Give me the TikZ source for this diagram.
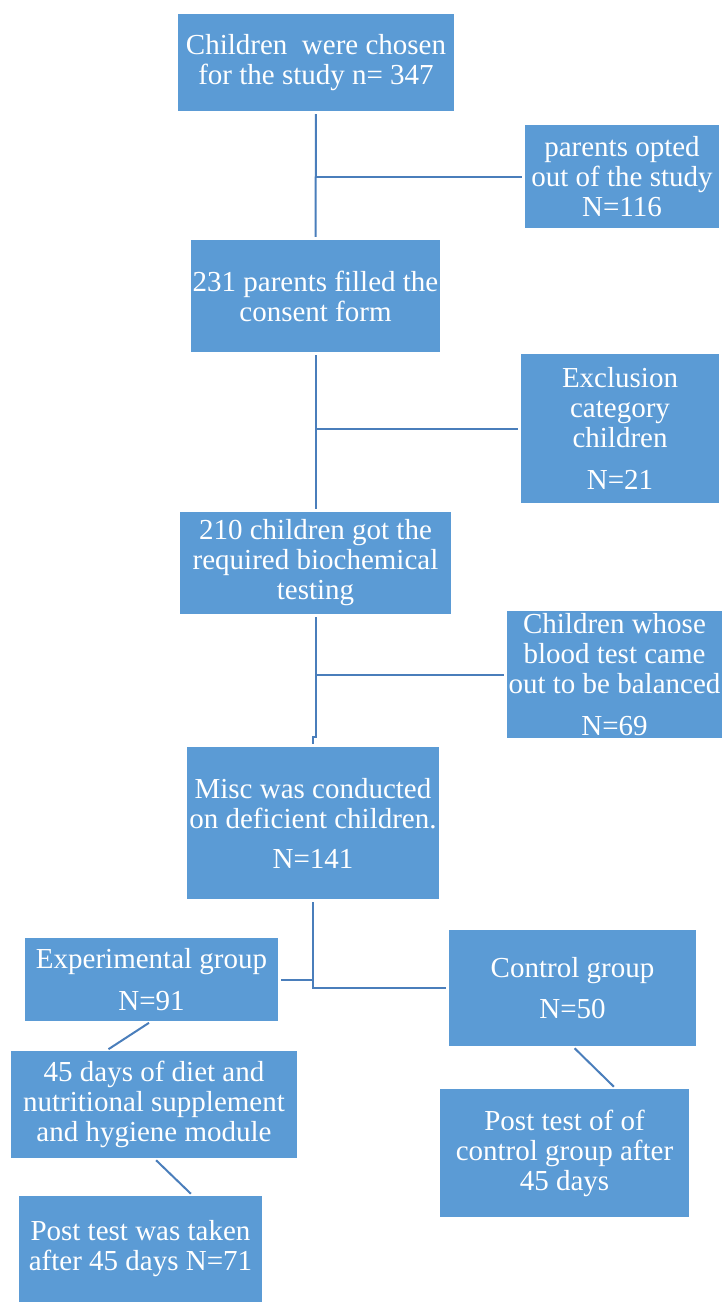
\documentclass[tikz,border=0pt]{standalone}
\usepackage{fontspec}
\setmainfont{Liberation Serif}
\usepackage{tikz}
\usetikzlibrary{positioning,calc}
\definecolor{boxblue}{HTML}{5B9BD5}
\definecolor{lineblue}{HTML}{4A7EBB}

\begin{document}
\begin{tikzpicture}[x=1pt,y=-1pt,
		flowbox/.style={fill=boxblue,draw=none,text=white,align=center,inner sep=0pt,
			font=\fontsize{29}{30}\selectfont},
		link/.style={draw=lineblue,line width=2pt}]
			
			\useasboundingbox (0,0) rectangle (724,1303);
			
			% main column
			\node[flowbox,minimum width=276pt,minimum height=97pt] (chosen) at (316,62.5)
			{Children\ \ were chosen\\for the study n= 347};
			\node[flowbox,minimum width=249pt,minimum height=112pt] (consent) at (315.5,296)
			{231 parents filled the\\consent form};
			\node[flowbox,minimum width=271pt,minimum height=102pt] (testing) at (315.5,563)
			{210 children got the\\required biochemical\\testing};
			\node[flowbox,minimum width=252pt,minimum height=152pt] (misc) at (313,823)
			{Misc was conducted\\on deficient children.\\[10pt]N=141};
			
			% side boxes
			\node[flowbox,minimum width=194pt,minimum height=103pt] (optout) at (622,176.5)
			{parents opted\\out of the study\\N=116};
			\node[flowbox,minimum width=198pt,minimum height=149pt] (exclude) at (620,428.5)
			{Exclusion\\category\\children\\[12pt]N=21};
			\node[flowbox,minimum width=215pt,minimum height=127pt] (balanced) at (614.5,674.5)
			{Children whose\\blood test came\\out to be balanced\\[12pt]N=69};
			
			% groups
			\node[flowbox,minimum width=253pt,minimum height=83pt] (expgrp) at (151.5,979.5)
			{Experimental group\\[12pt]N=91};
			\node[flowbox,minimum width=247pt,minimum height=116pt] (ctrlgrp) at (572.5,988)
			{Control group\\[11pt]N=50};
			\node[flowbox,minimum width=286pt,minimum height=107pt] (diet) at (154,1104.5)
			{45 days of diet and\\nutritional supplement\\and hygiene module};
			\node[flowbox,minimum width=243pt,minimum height=106pt] (exppost) at (140.5,1249)
			{Post test was taken\\after 45 days N=71};
			\node[flowbox,minimum width=249pt,minimum height=128pt] (ctrlpost) at (564.5,1153)
			{Post test of of\\control group after\\45 days};
			
			% connectors
			\coordinate (b1) at (chosen.south |- optout.west);
			\coordinate (b2) at (consent.south |- exclude.west);
			\coordinate (b3) at (testing.south |- balanced.west);
			\coordinate (j3) at (testing.south |- 0,737);
			\draw[link,shorten <=3pt,shorten >=3pt] (chosen.south) -- (consent.north);
			\draw[link,shorten >=3pt] (b1) -- (optout.west);
			\draw[link,shorten <=3pt,shorten >=3pt] (consent.south) -- (testing.north);
			\draw[link,shorten >=3pt] (b2) -- (exclude.west);
			\draw[link,shorten <=3pt,shorten >=3pt] (testing.south) -- (j3) -| (misc.north);
			\draw[link,shorten >=3pt] (b3) -- (balanced.west);
			
			\draw[link,shorten <=3pt,shorten >=3pt] (misc.south) |- (ctrlgrp.west);
			\draw[link,shorten <=3pt] (expgrp.east) -- (expgrp.east -| misc.south);
			
			\draw[link,shorten <=3pt,shorten >=3pt] (expgrp.south) -- ([xshift=-48pt]diet.north);
			\draw[link,shorten <=3pt,shorten >=3pt] (diet.south) -- ([xshift=52.5pt]exppost.north);
			\draw[link,shorten <=3pt,shorten >=3pt] (ctrlgrp.south) -- ([xshift=51.5pt]ctrlpost.north);
			
		\end{tikzpicture}
\end{document}
